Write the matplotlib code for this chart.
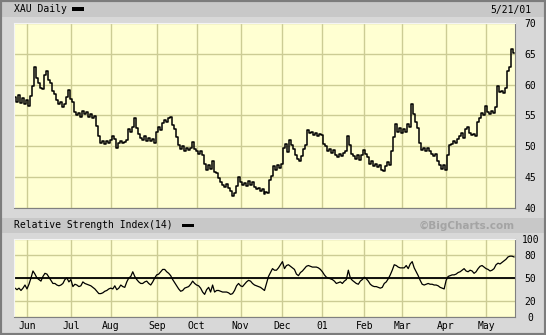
import numpy as np
import pandas as pd
import matplotlib
matplotlib.use("Agg")
import matplotlib.pyplot as plt
from matplotlib.patches import Rectangle

W, H = 546, 335

# NYSE holidays inside the window
holidays = ["2000-05-29", "2000-07-04", "2000-09-04", "2000-11-23", "2000-12-25",
            "2001-01-01", "2001-01-15", "2001-02-19", "2001-04-13"]

# XAU daily close (one value per trading day)
close = [
    58.0, 57.2, 58.3, 57.0, 57.8, 56.8,  # May 00
    57.5, 56.6, 58.2, 59.8, 62.8, 61.0, 60.2, 59.5, 59.3, 61.5, 62.2,
    60.8, 60.3, 59.0, 58.5, 57.5, 56.8, 57.2, 56.4, 56.8, 58.0, 59.2,  # Jun
    57.6, 57.2, 55.6, 55.0, 55.4, 54.8, 55.8, 55.2, 55.6, 54.8,
    55.3, 54.6, 54.9, 53.3, 51.6, 50.6, 50.9, 50.3, 50.8, 50.6,  # Jul
    51.0, 51.6, 51.2, 49.8, 50.6, 50.9, 50.5, 50.7, 51.0, 52.8, 52.4, 53.2,
    54.6, 53.0, 52.0, 51.3, 51.0, 51.6, 50.8, 51.4, 50.9, 51.2, 50.6,  # Aug
    52.4, 53.1, 52.6, 53.8, 54.2, 54.0, 54.6, 54.8, 53.4, 52.8,
    51.5, 50.2, 49.6, 50.1, 49.3, 49.8, 49.4, 49.8, 50.7, 49.6,  # Sep
    49.2, 48.8, 49.3, 48.6, 47.2, 46.2, 47.0, 46.4, 47.6, 45.8, 45.6,
    44.8, 44.2, 43.8, 43.4, 43.9, 43.2, 42.8, 42.0, 42.4, 43.6, 45.0,  # Oct
    44.2, 43.8, 44.0, 43.5, 44.4, 43.8, 44.2, 43.4, 43.0, 43.2, 42.7,
    43.0, 42.3, 42.6, 42.4, 44.6, 45.2, 46.8, 46.2, 46.9, 46.5,  # Nov
    47.2, 49.8, 50.4, 49.0, 51.0, 50.2, 49.6, 48.6, 47.9, 47.6,
    48.4, 49.6, 50.2, 52.6, 52.2, 52.4, 51.8, 52.2, 51.6, 52.0,  # Dec
    51.8, 50.4, 50.0, 49.2, 49.6, 48.9, 49.4, 48.6, 48.2, 48.8, 48.4,
    48.9, 49.2, 51.6, 50.2, 48.8, 48.4, 48.0, 48.6, 47.8, 48.6,  # Jan 01
    49.4, 48.8, 48.2, 47.2, 47.6, 46.8, 47.2, 46.6, 46.9, 46.2,
    46.0, 46.8, 47.4, 46.9, 49.2, 51.5, 53.6, 52.4, 52.9,  # Feb
    52.2, 52.8, 52.4, 53.6, 53.2, 56.8, 55.2, 54.0, 53.0, 50.6, 49.4,
    49.8, 49.2, 49.7, 49.3, 48.8, 48.4, 48.7, 47.6, 47.0, 46.4, 46.9,  # Mar
    46.2, 48.6, 50.2, 50.4, 50.8, 50.6, 51.2, 51.6, 52.2, 51.4,
    52.8, 53.2, 52.2, 51.8, 52.0, 51.6, 54.0, 54.6, 55.4, 55.0,  # Apr
    56.6, 55.6, 55.2, 55.8, 55.4, 56.4, 59.8, 58.8, 59.0, 58.6,
    59.4, 62.2, 62.8, 65.8, 65.2,  # May 01
]

# RSI(14)
rsi = [
    37, 35, 37, 34, 37, 41,
    36, 42, 50, 59, 55, 50, 48, 46, 52, 56, 55, 51, 47, 43, 43, 41, 40, 41, 43, 48, 50, 45,
    48, 39, 42, 41, 39, 40, 45, 43, 42, 41, 40, 38, 36, 33, 30, 30, 31, 33, 34, 36,
    37, 36, 40, 35, 37, 41, 39, 38, 45, 50, 52, 58, 52, 48, 45, 43, 43, 45, 46, 43, 41, 45, 50,
    54, 55, 58, 61, 61, 58, 56, 53, 48, 44, 40, 36, 33, 34, 37, 38, 39, 42, 46, 43,
    41, 40, 37, 32, 29, 35, 38, 32, 41, 32, 34, 34, 33, 32, 32, 32, 31, 29, 30, 34, 40, 43,
    40, 39, 42, 45, 47, 46, 43, 41, 40, 39, 38, 36, 34, 43, 52, 57, 62, 60, 60, 63, 67,
    71, 62, 66, 67, 65, 63, 61, 55, 53, 57, 59, 62, 65, 66, 65, 64, 64, 64, 63, 61,
    58, 54, 51, 50, 49, 48, 46, 43, 44, 45, 43, 46, 48, 60, 50, 47, 45, 43, 42, 46, 48,
    51, 49, 46, 42, 40, 39, 39, 38, 37, 38, 43, 45, 49, 54, 60, 67, 66, 64, 63,
    63, 63, 66, 62, 68, 71, 63, 58, 53, 47, 42, 41, 42, 43, 42, 42, 41, 41, 40, 38, 37, 36,
    47, 52, 53, 54, 54, 55, 57, 58, 60, 62, 59, 58, 60, 59, 56, 58, 62, 65, 66, 64,
    62, 61, 59, 60, 62, 67, 69, 68, 70, 72, 74, 77, 78, 78, 77,
]

price_ticks = [40, 45, 50, 55, 60, 65, 70]
rsi_ticks = [0, 20, 50, 80, 100]
month_labels = ["Jun", "Jul", "Aug", "Sep", "Oct", "Nov", "Dec",
                "01", "Feb", "Mar", "Apr", "May"]

days = pd.bdate_range("2000-05-23", "2001-05-21")
days = days[~days.isin(pd.to_datetime(holidays))]
n = min(len(days), len(close), len(rsi))
idx = np.arange(n)
month_starts = [i for i in range(1, n) if days[i].month != days[i - 1].month]

BG = "#d8d8d8"
BAND = "#c8c8c8"
PANEL = "#ffffd2"
GRID = "#cccc94"
MONO = "DejaVu Sans Mono"


def fx(px):
    return px / W


def fy(py):
    return 1 - py / H


def style_panel(ax, yticks):
    ax.set_facecolor(PANEL)
    ax.set_xlim(-0.5, n - 0.5)
    ax.set_xticks(month_starts)
    ax.set_yticks(yticks)
    ax.grid(True, color=GRID, lw=1)
    ax.set_axisbelow(True)
    ax.tick_params(axis="y", left=False, labelleft=False, right=False,
                   labelright=True, length=0, pad=11, labelsize=7)
    for lbl in ax.get_yticklabels():
        lbl.set_ha("center")
        lbl.set_family(MONO)
    for side in ("top", "left"):
        ax.spines[side].set_color("#f4f4f4")
    for side in ("bottom", "right"):
        ax.spines[side].set_color("#808080")


fig = plt.figure(figsize=(W / 100, H / 100), dpi=100, facecolor=BG)

# header bands
fig.add_artist(Rectangle((fx(2), fy(17)), 542 / W, 15 / H, transform=fig.transFigure,
                         color=BAND, lw=0))
fig.add_artist(Rectangle((fx(2), fy(233)), 542 / W, 15 / H, transform=fig.transFigure,
                         color=BAND, lw=0))
fig.add_artist(Rectangle((0, 0), 1, 1, transform=fig.transFigure, fill=False,
                         edgecolor="#7c7c7c", lw=3))

fig.text(fx(14), fy(9.5), "XAU Daily", family=MONO, size=7, va="center")
fig.add_artist(Rectangle((fx(72), fy(11)), 12 / W, 3.5 / H, transform=fig.transFigure,
                         color="black", lw=0))
fig.text(fx(531), fy(9.5), "5/21/01", family=MONO, size=7, va="center", ha="right")

fig.text(fx(14), fy(225.5), "Relative Strength Index(14)", family=MONO, size=7,
         va="center")
fig.add_artist(Rectangle((fx(182), fy(227)), 12 / W, 3.5 / H, transform=fig.transFigure,
                         color="black", lw=0))
fig.text(fx(515), fy(225.5), "\u00a9BigCharts.com", family="DejaVu Sans", weight="bold",
         size=7.5, color="#a4a4a4", va="center", ha="right")

# price panel
ax_p = fig.add_axes([fx(14), fy(208), 501 / W, 185 / H])
ax_p.step(idx, close[:n], where="mid", color="black", lw=1.1)
ax_p.set_ylim(40, 70)
style_panel(ax_p, price_ticks)
ax_p.tick_params(axis="x", bottom=False, labelbottom=False)

# RSI panel
ax_r = fig.add_axes([fx(14), fy(317), 501 / W, 78 / H])
ax_r.plot(idx, rsi[:n], color="black", lw=0.9)
ax_r.axhline(50, color="black", lw=1.3)
ax_r.set_ylim(0, 100)
style_panel(ax_r, rsi_ticks)
ax_r.set_xticklabels(month_labels[:len(month_starts)], family=MONO, size=7)
ax_r.tick_params(axis="x", length=0, pad=3)

fig.savefig("out.png", dpi=100, facecolor=BG)
